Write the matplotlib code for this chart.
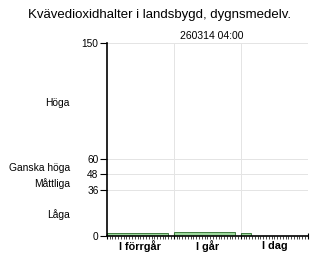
import matplotlib
matplotlib.use('Agg')
from matplotlib import pyplot as plt
from matplotlib import transforms
from matplotlib.ticker import MultipleLocator

plt.rcParams['font.family'] = ['Liberation Sans', 'DejaVu Sans']

# daily mean bars: start hour, width in hours, value
bar_start = [0, 24, 48]
bar_width = [22, 22, 3.5]
bar_value = [2, 3, 2]

day_labels = ['I förrgår', 'I går', 'I dag']
level_ticks = [0, 36, 48, 60, 150]
level_names = ['Låga', 'Måttliga', 'Ganska höga', 'Höga']
level_pos = [17, 41, 53, 103]

title = 'Kvävedioxidhalter i landsbygd, dygnsmedelv.'
stamp = '260314 04:00'

fig = plt.figure(figsize=(3.2, 2.56), dpi=100)
ax = fig.add_axes([0.334, 0.078, 0.628, 0.754])

for y in [36, 48, 60, 150]:
    ax.axhline(y, color='#e4e4e4', lw=0.7, zorder=0)
for x in [24, 48, 72]:
    ax.axvline(x, color='#e4e4e4', lw=0.7, zorder=0)

ax.bar(bar_start, bar_value, width=bar_width, align='edge',
       color='#9ad89a', edgecolor='#2a6a2a', linewidth=0.6, zorder=2)

ax.set_xlim(0, 72)
ax.set_ylim(0, 150)
ax.set_yticks(level_ticks)
ax.tick_params(axis='y', labelsize=7.3, length=5, width=0.8, pad=1)
ax.set_xticks([0, 24, 48, 72])
ax.set_xticklabels([])
ax.xaxis.set_minor_locator(MultipleLocator(1))
ax.tick_params(axis='x', which='major', length=4, width=0.8, direction='inout')
ax.tick_params(axis='x', which='minor', length=2, width=0.5, direction='out')
for i, lab in enumerate(day_labels):
    ax.text(i * 24 + 12, -8, lab, ha='center', va='center', fontsize=7.8,
            fontweight='bold')

for sp in ['top', 'right']:
    ax.spines[sp].set_visible(False)
ax.spines['left'].set_linewidth(1.2)
ax.spines['bottom'].set_linewidth(1.2)

name_tr = transforms.blended_transform_factory(fig.transFigure, ax.transData)
for name, pos in zip(level_names, level_pos):
    ax.text(70 / 320, pos, name, ha='right', va='center', fontsize=7.4,
            transform=name_tr)

fig.text(0.5, 0.942, title, ha='center', va='center', fontsize=9.5)
fig.text(212 / 320, 0.86, stamp, ha='center', va='center', fontsize=7.5)

fig.savefig('out.png', dpi=100)
